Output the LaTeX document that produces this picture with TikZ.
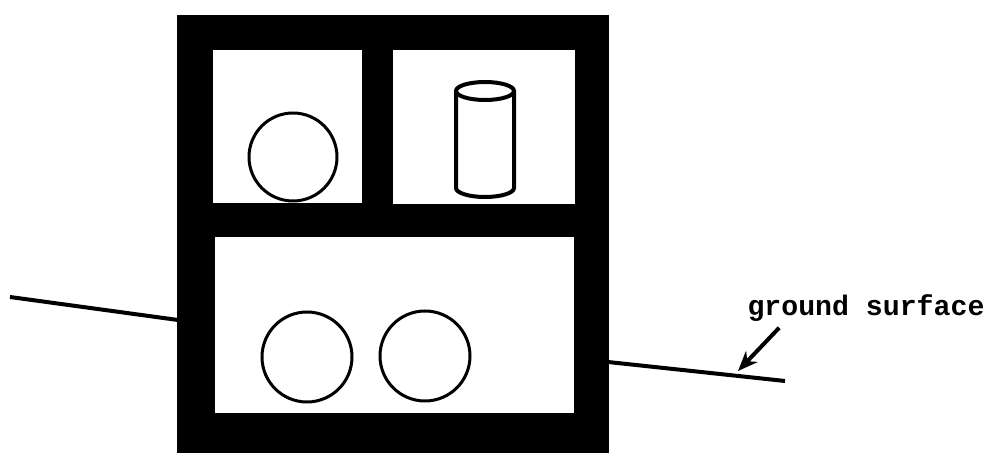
\documentclass[tikz,border=0pt]{standalone}
\usepackage{fontspec}
\setmonofont{Liberation Mono}
\usetikzlibrary{arrows.meta}

\begin{document}
\begin{tikzpicture}[
  x=0.5pt, y=-0.5pt,
  wall/.style={fill=black},
  room/.style={fill=white},
  item/.style={draw=black, line width=1.5pt},
  ground/.style={draw=black, line width=2pt},
  pointer/.style={-{Stealth[length=10pt, width=8pt]}, line width=2pt},
  lbl/.style={font=\fontsize{14.1}{16}\selectfont\ttfamily\bfseries, inner sep=0pt}
]
  \useasboundingbox (0,0) rectangle (991,453);

  % ground surface
  \draw[ground] (10,297) -- (178,320);
  \draw[ground] (608,362) -- (785,381);

  % building walls and rooms
  \fill[wall] (177,15) rectangle (609,453);
  \fill[room] (213,50) rectangle (362,203);
  \fill[room] (393,50) rectangle (575,204);
  \fill[room] (215,237) rectangle (574,413);

  % stored items
  \draw[item] (293,157) circle[radius=22pt];
  \draw[item] (307,357) circle[radius=22.5pt];
  \draw[item] (425,356) circle[radius=22.5pt];

  % cylinder
  \draw[item, line width=2pt] (456,91) -- (456,188)
    arc[start angle=180, end angle=360, x radius=14.5pt, y radius=4.5pt]
    -- (514,91);
  \draw[item, line width=2pt] (485,91) ellipse[x radius=14.5pt, y radius=4.5pt];

  % label
  \node[lbl] (surface) at (866,308) {ground surface};
  \coordinate (surfpt) at (738,371);
  \draw[pointer] ([xshift=16pt, yshift=-3pt]surface.south west) -- (surfpt);
\end{tikzpicture}
\end{document}
